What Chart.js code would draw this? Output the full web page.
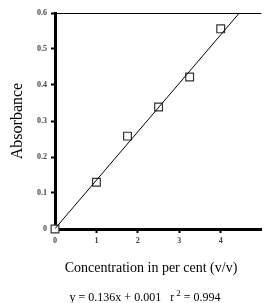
<!DOCTYPE html>
<html lang="en">
<head>
    <meta charset="UTF-8">
    <title>Absorbance vs concentration</title>
    <style>
        body { margin: 0; background: #fff; }
        .wrap { position: relative; width: 268px; height: 303px; }
        .label {
            position: absolute;
            font-family: "Liberation Serif", "DejaVu Serif", serif;
            color: #000;
            white-space: nowrap;
            transform: translateX(-50%);
        }
        .xtitle { left: 151px; top: 259px; font-size: 14px; line-height: 18px; }
        .eq { left: 145px; top: 289px; font-size: 12px; line-height: 16px; }
        .eq sup { font-size: 9px; vertical-align: 5px; line-height: 0; margin-left: 2px; }
    </style>
</head>
<body>
    <div class="wrap">
        <canvas id="myChart" width="268" height="303"></canvas>
        <div class="label xtitle">Concentration in per cent (v/v)</div>
        <div class="label eq">y = 0.136x + 0.001&nbsp;&nbsp;&nbsp;r<sup>2</sup> = 0.994</div>
    </div>
    <script src="https://cdn.jsdelivr.net/npm/chart.js"></script>
    <script>
        // measured points
        var concentration = [0, 1, 1.75, 2.5, 3.25, 4];
        var absorbance = [0, 0.13, 0.258, 0.339, 0.422, 0.556];

        // fitted line (ends where it meets the top)
        var fitX = [0, 4.45];
        var fitY = [0.001, 0.6];

        var yTicks = [0, 0.1, 0.2, 0.3, 0.4, 0.5, 0.6];
        var xTicks = [0, 1, 2, 3, 4];

        function toPoints(xs, ys) {
            var pts = [];
            for (var i = 0; i < xs.length; i++) {
                pts.push({ x: xs[i], y: ys[i] });
            }
            return pts;
        }

        // thin line along the top of the plot
        var topLine = {
            id: 'topLine',
            beforeDatasetsDraw: function(chart) {
                var a = chart.chartArea;
                var ctx = chart.ctx;
                ctx.save();
                ctx.strokeStyle = '#000';
                ctx.lineWidth = 1;
                ctx.beginPath();
                ctx.moveTo(a.left, a.top + 0.5);
                ctx.lineTo(a.right, a.top + 0.5);
                ctx.stroke();
                ctx.restore();
            }
        };

        var tickFont = { family: '"Liberation Serif", serif', size: 8, weight: 'bold' };

        var ctx = document.getElementById('myChart').getContext('2d');
        var myChart = new Chart(ctx, {
            type: 'scatter',
            data: {
                datasets: [
                    {
                        type: 'line',
                        data: toPoints(fitX, fitY),
                        borderColor: '#000',
                        borderWidth: 1,
                        pointRadius: 0,
                        fill: false,
                        order: 0
                    },
                    {
                        data: toPoints(concentration, absorbance),
                        pointStyle: 'rect',
                        pointRadius: 5.5,
                        pointBorderWidth: 1.2,
                        pointBorderColor: '#333',
                        pointBackgroundColor: '#fff',
                        clip: false,
                        order: 1
                    }
                ]
            },
            options: {
                responsive: false,
                animation: false,
                layout: { padding: { left: 0, top: 13, right: 0, bottom: 23 } },
                plugins: {
                    legend: { display: false },
                    tooltip: { enabled: false }
                },
                scales: {
                    x: {
                        type: 'linear',
                        min: 0,
                        max: 4.98,
                        afterFit: function(scale) { scale.height = 51; },
                        afterBuildTicks: function(scale) {
                            scale.ticks = xTicks.map(function(v) { return { value: v }; });
                        },
                        border: { color: '#000', width: 3 },
                        grid: { drawOnChartArea: false, tickLength: 4, tickWidth: 2, tickColor: '#000' },
                        ticks: { font: tickFont, color: '#444', padding: 3, maxRotation: 0 }
                    },
                    y: {
                        min: 0,
                        max: 0.6,
                        afterFit: function(scale) { scale.width = 55; },
                        afterBuildTicks: function(scale) {
                            scale.ticks = yTicks.map(function(v) { return { value: v }; });
                        },
                        border: { color: '#000', width: 3 },
                        grid: { drawOnChartArea: false, tickLength: 4, tickWidth: 2, tickColor: '#000' },
                        ticks: {
                            font: tickFont,
                            color: '#444',
                            padding: 4,
                            callback: function(v) { return v === 0 ? '0' : v.toFixed(1); }
                        },
                        title: {
                            display: true,
                            text: 'Absorbance',
                            color: '#000',
                            font: { family: '"Liberation Serif", serif', size: 16 },
                            padding: { top: 8, bottom: 0 }
                        }
                    }
                }
            },
            plugins: [topLine]
        });
    </script>
</body>
</html>
